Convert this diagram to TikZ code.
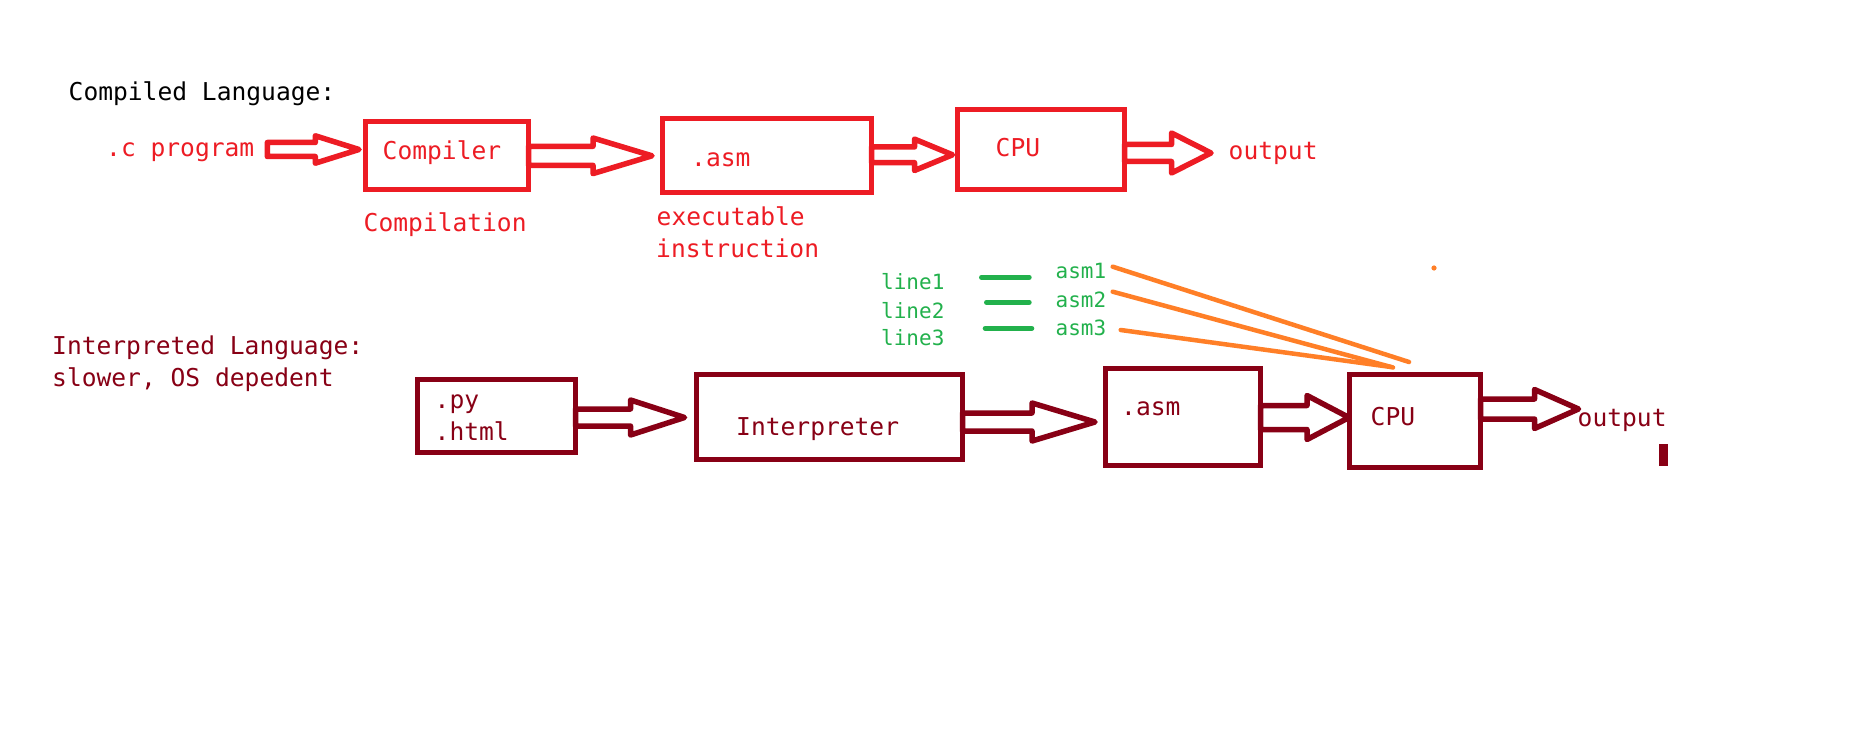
\documentclass[tikz,border=0pt]{standalone}
\usepackage{fontspec}
\newfontfamily\dmono{DejaVu Sans Mono}
\definecolor{pred}{HTML}{ED1C24}
\definecolor{pdark}{HTML}{880015}
\definecolor{pgreen}{HTML}{22B14C}
\definecolor{porange}{HTML}{FF7F27}
\newcommand\blockarrow[7]{\draw[#1] (#2,#3-#6) -- (#4,#3-#6) -- (#4,#3-#7) -- (#5,#3) -- (#4,#3+#7) -- (#4,#3+#6) -- (#2,#3+#6) -- cycle;}
\begin{document}
\begin{tikzpicture}[x=1pt,y=-1pt,
  txt/.style={anchor=base west, inner sep=0pt, font=\dmono\fontsize{24.6}{30}\selectfont},
  sml/.style={anchor=base west, inner sep=0pt, font=\dmono\fontsize{21}{26}\selectfont, text=pgreen},
  box/.style={draw, rectangle, line width=5.5pt, inner sep=0pt},
  barr/.style={line width=5.5pt, line join=round},
  gdash/.style={draw=pgreen, line width=5pt, line cap=round},
  oline/.style={draw=porange, line width=4.5pt, line cap=round}]
\fill[white] (0,0) rectangle (1852,743);
\path[use as bounding box] (0,0) rectangle (1852,743);

% ---- compiled language ----
\node[txt, text=black] (ctitle) at (68.5,100.7) {Compiled Language:};
\node[txt, text=pred] (cprog) at (106,157) {.c program};
\node[box, draw=pred, minimum width=163, minimum height=68] (compiler) at (447,155.5) {};
\node[txt, text=pred] (compilertxt) at (382.5,160) {Compiler};
\node[box, draw=pred, minimum width=209, minimum height=74] (asmtop) at (767,155.5) {};
\node[txt, text=pred] (asmtoptxt) at (691,166.7) {.asm};
\node[box, draw=pred, minimum width=167, minimum height=80] (cputop) at (1041,149.5) {};
\node[txt, text=pred] (cputoptxt) at (995.5,156.7) {CPU};
\node[txt, text=pred] (outtop) at (1228.5,160) {output};
\node[txt, text=pred] (compilation) at (363.5,231.7) {Compilation};
\node[txt, text=pred] (exec) at (656.5,226) {executable};
\node[txt, text=pred] (instr) at (656,258) {instruction};

\blockarrow{barr, draw=pred}{267.3}{149.5}{315.3}{359}{7}{13.7}
\blockarrow{barr, draw=pred}{528.5}{155.8}{593}{652}{9.5}{17.8}
\blockarrow{barr, draw=pred}{871.5}{154.8}{914.5}{952.5}{7.8}{15.7}
\blockarrow{barr, draw=pred}{1124.5}{153}{1171.5}{1211}{8.5}{20}

% ---- green / orange ----
\node[sml] (line1) at (881,290) {line1};
\node[sml] (line2) at (881,318) {line2};
\node[sml] (line3) at (881,345) {line3};
\node[sml] (asm1) at (1055.5,279) {asm1};
\node[sml] (asm2) at (1055.5,307) {asm2};
\node[sml] (asm3) at (1055.5,335) {asm3};
\draw[gdash] (981.5,277.3) -- (1029.2,277.3);
\draw[gdash] (986.5,302.3) -- (1029.2,302.3);
\draw[gdash] (985.2,328.3) -- (1031.8,328.3);
\draw[oline] (1112.7,266.7) -- (1409,362);
\draw[oline] (1112.7,291.7) -- (1393,367.5);
\draw[oline] (1120.7,330) -- (1391,367);
\fill[porange] (1434,268) circle (2.6);

% ---- interpreted language ----
\node[txt, text=pdark] (ititle) at (52,354) {Interpreted Language:};
\node[txt, text=pdark] (isub) at (52,386.7) {slower, OS depedent};
\node[box, draw=pdark, minimum width=158, minimum height=73] (pybox) at (496.5,416) {};
\node[txt, text=pdark] (pytxt) at (434.5,408) {.py};
\node[txt, text=pdark] (htmltxt) at (434.5,440) {.html};
\node[box, draw=pdark, minimum width=266, minimum height=85] (interp) at (829.5,417) {};
\node[txt, text=pdark] (interptxt) at (736,435) {Interpreter};
\node[box, draw=pdark, minimum width=155, minimum height=97] (asmbot) at (1183,417) {};
\node[txt, text=pdark] (asmbottxt) at (1121,415) {.asm};
\node[box, draw=pdark, minimum width=131, minimum height=93] (cpubot) at (1415,421) {};
\node[txt, text=pdark] (cpubottxt) at (1370.5,425) {CPU};
\node[txt, text=pdark] (outbot) at (1577.5,426) {output};

\blockarrow{barr, draw=pdark}{575.5}{417.5}{630.5}{684.5}{8.5}{17.5}
\blockarrow{barr, draw=pdark}{962.5}{422}{1032}{1095}{9}{19}
\blockarrow{barr, draw=pdark}{1260.5}{417.5}{1307}{1349}{12}{22}
\blockarrow{barr, draw=pdark}{1480.5}{409}{1534.5}{1578.5}{10}{19.5}
\fill[pdark] (1659,444) rectangle (1668,466);
\end{tikzpicture}
\end{document}
